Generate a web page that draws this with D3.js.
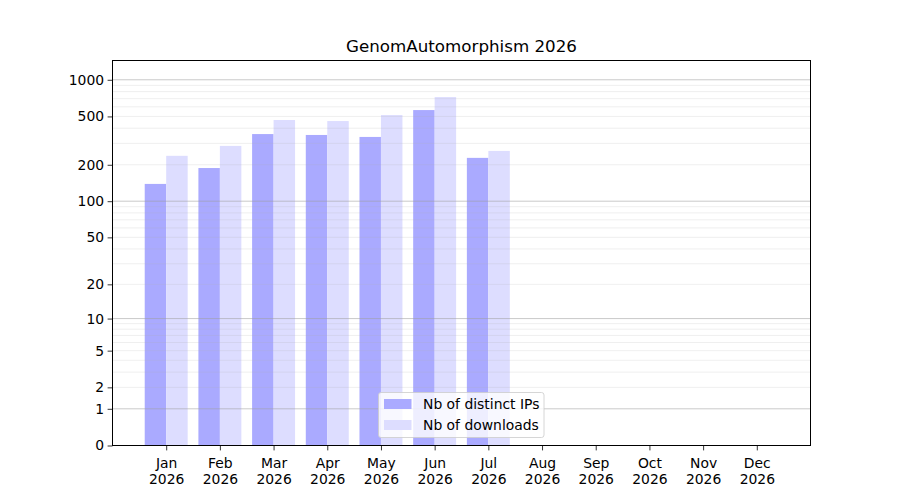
<!DOCTYPE html>
<html>
<head>
<meta charset="utf-8">
<script src="https://cdn.jsdelivr.net/npm/d3@7"></script>
<style>
  body { margin: 0; background: #fff; }
  svg text { font-family: "DejaVu Sans", sans-serif; fill: #000; }
</style>
</head>
<body>
<svg id="chart" width="900" height="500"></svg>
<script>
// chart data
var months = ["Jan", "Feb", "Mar", "Apr", "May", "Jun", "Jul", "Aug", "Sep", "Oct", "Nov", "Dec"];
var year = "2026";
var distinctIPs = [139, 188, 358, 352, 339, 564, 228];
var downloads = [237, 286, 467, 458, 513, 721, 260];
var yTicks = [0, 1, 2, 5, 10, 20, 50, 100, 200, 500, 1000];
var majorGrid = [1, 10, 100, 1000];
var minorGrid = [2, 3, 4, 5, 6, 7, 8, 9, 20, 30, 40, 50, 60, 70, 80, 90, 200, 300, 400, 500, 600, 700, 800, 900];

var svg = d3.select("#chart");
// plot area (window.top is reserved, so use other names)
var pLeft = 112.5, pRight = 810.5, pTop = 60.5, pBottom = 445.5;

var x = d3.scaleLinear().domain([-1, 12]).range([pLeft, pRight]);
// log10(1 + v) scale, same as symlog with constant 1
var y = d3.scaleSymlog().constant(1).domain([0, 1440]).range([pBottom, pTop]);
var barW = 0.4;

svg.append("defs").append("clipPath").attr("id", "plot")
    .append("rect").attr("x", pLeft).attr("y", pTop)
    .attr("width", pRight - pLeft).attr("height", pBottom - pTop);

var plot = svg.append("g").attr("clip-path", "url(#plot)");

plot.selectAll("rect.ip").data(distinctIPs).enter()
    .append("rect").attr("class", "ip")
    .attr("x", (d, i) => x(i - barW))
    .attr("width", x(barW) - x(0))
    .attr("y", d => y(d))
    .attr("height", d => y(0) - y(d))
    .style("fill", "#aaaaff");

plot.selectAll("rect.dl").data(downloads).enter()
    .append("rect").attr("class", "dl")
    .attr("x", (d, i) => x(i))
    .attr("width", x(barW) - x(0))
    .attr("y", d => y(d))
    .attr("height", d => y(0) - y(d))
    .style("fill", "#ddddff");

// grid drawn over bars
plot.selectAll("line.minor").data(minorGrid).enter()
    .append("line").attr("class", "minor")
    .attr("x1", pLeft).attr("x2", pRight)
    .attr("y1", d => y(d)).attr("y2", d => y(d))
    .style("stroke", "#b0b0b0").style("stroke-opacity", 0.25).style("stroke-width", 0.8);

plot.selectAll("line.major").data(majorGrid).enter()
    .append("line").attr("class", "major")
    .attr("x1", pLeft).attr("x2", pRight)
    .attr("y1", d => y(d)).attr("y2", d => y(d))
    .style("stroke", "#a0a0a0").style("stroke-opacity", 0.7).style("stroke-width", 0.8);

// axes
var yAxis = d3.axisLeft(y).tickValues(yTicks).tickFormat(d3.format("d")).tickSize(4.9).tickPadding(3.5);
var gy = svg.append("g").attr("transform", "translate(" + pLeft + ",0)").call(yAxis);

var xAxis = d3.axisBottom(x).tickValues(d3.range(12)).tickFormat("").tickSize(4.9);
var gx = svg.append("g").attr("transform", "translate(0," + pBottom + ")").call(xAxis);

[gy, gx].forEach(function (g) {
    g.select(".domain").remove();
    g.selectAll(".tick line").style("stroke", "#000").style("stroke-width", 0.8);
    g.selectAll("text").style("font-size", "13.9px").style("font-family", "DejaVu Sans");
});

gx.selectAll(".tick").each(function (d) {
    var t = d3.select(this).append("text")
        .attr("text-anchor", "middle")
        .style("font-size", "13.9px").style("fill", "#000");
    t.append("tspan").attr("x", 0).attr("y", 22).text(months[d]);
    t.append("tspan").attr("x", 0).attr("y", 38).text(year);
});

// frame
svg.append("rect").attr("x", pLeft).attr("y", pTop)
    .attr("width", pRight - pLeft).attr("height", pBottom - pTop)
    .style("fill", "none").style("stroke", "#000").style("stroke-width", 1);

// title
svg.append("text").attr("x", (pLeft + pRight) / 2).attr("y", 52)
    .attr("text-anchor", "middle").style("font-size", "16.7px")
    .text("GenomAutomorphism " + year);

// legend, lower center
var legendItems = [
    { label: "Nb of distinct IPs", color: "#aaaaff" },
    { label: "Nb of downloads", color: "#ddddff" }
];
var lg = svg.append("g").attr("transform", "translate(378.5,392.5)");
lg.append("rect").attr("width", 165.5).attr("height", 45)
    .attr("rx", 2.5)
    .style("fill", "#fff").style("fill-opacity", 0.8)
    .style("stroke", "#cccccc").style("stroke-width", 0.8);
lg.selectAll("g.item").data(legendItems).enter()
    .append("g").attr("class", "item")
    .attr("transform", (d, i) => "translate(0," + (i * 21) + ")")
    .each(function (d) {
        var g = d3.select(this);
        g.append("rect").attr("x", 5.5).attr("y", 6.5).attr("width", 27.5).attr("height", 10)
            .style("fill", d.color);
        g.append("text").attr("x", 44.5).attr("y", 16.5)
            .style("font-size", "13.9px").text(d.label);
    });
</script>
</body>
</html>
